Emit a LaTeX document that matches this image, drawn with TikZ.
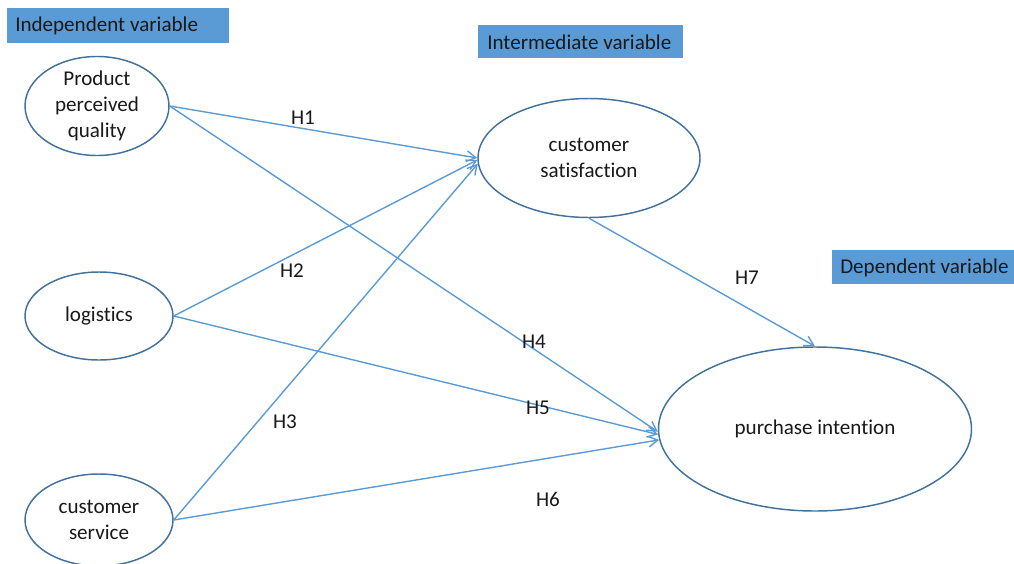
\documentclass[tikz,border=0pt]{standalone}
\usepackage{fontspec}
\setmainfont{Carlito}[Ligatures={NoCommon,NoDiscretionary}]
\usetikzlibrary{shapes.geometric,arrows.meta}
\definecolor{boxblue}{HTML}{5B9BD5}
\definecolor{rimblue}{HTML}{41719C}
\definecolor{linkblue}{HTML}{5B9BD5}
\tikzset{
  every node/.style={font=\fontsize{15.8}{19.5}\selectfont, text=black!90},
  tag/.style={rectangle, fill=boxblue, inner sep=0pt, anchor=north west},
  var/.style={ellipse, draw=rimblue, line width=1.1pt, inner sep=0pt, align=center},
  link/.style={draw=linkblue, line width=1.05pt, -{Straight Barb[length=7pt,width=8pt,line width=1.05pt]}},
  hyp/.style={inner sep=0pt}
}
\begin{document}
\begin{tikzpicture}[x=0.75pt,y=-0.75pt]
\useasboundingbox (0,0) rectangle (1014,564);

% category headers
\node[tag, minimum width=222*0.75pt, minimum height=35*0.75pt] (hind) at (7,8) {};
\node[anchor=west, inner sep=0pt] (hindt) at (15,26) {Independent variable};
\node[tag, minimum width=205*0.75pt, minimum height=33*0.75pt] (hmid) at (478,25) {};
\node[anchor=west, inner sep=0pt] (hmidt) at (487,42) {Intermediate variable};
\node[tag, minimum width=182*0.75pt, minimum height=34*0.75pt] (hdep) at (832,250) {};
\node[anchor=west, inner sep=0pt] (hdept) at (840,268) {Dependent variable};

% constructs
\node[var, minimum width=144*0.75pt, minimum height=88*0.75pt] (ppq) at (97,106) {Product\\perceived\\quality};
\node[var, minimum width=148*0.75pt, minimum height=88*0.75pt] (log) at (99,316) {logistics};
\node[var, minimum width=148*0.75pt, minimum height=92*0.75pt] (srv) at (99,520) {customer\\service};
\node[var, minimum width=222*0.75pt, minimum height=119*0.75pt] (cs) at (589,158) {customer\\satisfaction};
\node[var, minimum width=313*0.75pt, minimum height=164*0.75pt] (pi) at (815,429) {purchase intention};

% hypothesised paths
\draw[link] (ppq.east) -- (cs.180);
\draw[link] (ppq.east) -- (pi.181);
\draw[link] (log.east) -- (cs.181.5);
\draw[link] (log.east) -- (pi.182.5);
\draw[link] (srv.east) -- (cs.183);
\draw[link] (srv.east) -- (pi.184);
\draw[link] (cs.south) -- (pi.north);

% path labels
\node[hyp] (h1) at (303,118) {H1};
\node[hyp] (h2) at (292,271) {H2};
\node[hyp] (h3) at (285,422) {H3};
\node[hyp] (h4) at (534,342) {H4};
\node[hyp] (h5) at (538,408) {H5};
\node[hyp] (h6) at (548,499) {H6};
\node[hyp] (h7) at (747,278) {H7};
\end{tikzpicture}
\end{document}
